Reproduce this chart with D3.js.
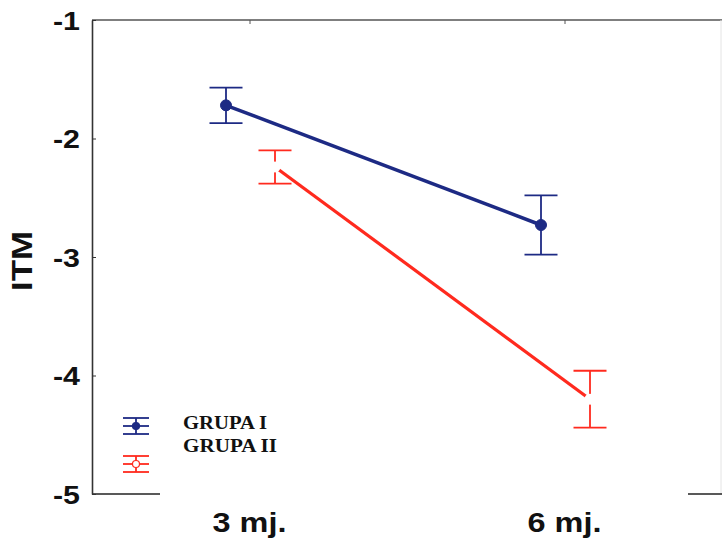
<!DOCTYPE html>
<html><head><meta charset="utf-8">
<script src="https://cdn.jsdelivr.net/npm/d3@7"></script>
<style>html,body{margin:0;padding:0;background:#fff;}svg{display:block;}</style>
</head><body>
<svg id="chart" width="722" height="541"></svg>
<script>
const categories = ["3 mj.", "6 mj."];
const seriesNames = ["GRUPA I", "GRUPA II"];
const grupa1Mean = [-1.72, -2.73];
const grupa1Err = [0.15, 0.25];
const grupa2Mean = [-2.24, -4.20];
const grupa2Err = [0.14, 0.24];
const yTicks = [-1, -2, -3, -4, -5];
const yLabel = "ITM";

const W = 722, H = 541;
const L = 92, R = 722, T = 20, B = 494;
const svg = d3.select("#chart");

const x = d3.scalePoint().domain(categories).range([L, R]).padding(0.5);
const y = d3.scaleLinear().domain([-5, -1]).range([B, T]);

const series = [
  {name: seriesNames[0], mean: grupa1Mean, err: grupa1Err, color: "#1d2a84", off: -23.5, filled: true, lw: 3.5},
  {name: seriesNames[1], mean: grupa2Mean, err: grupa2Err, color: "#ff2a1e", off: 25.5, filled: false, lw: 3.2}
];

// frame: top border
svg.append("line").attr("x1", L).attr("x2", R).attr("y1", T).attr("y2", T)
  .attr("stroke", "#555").attr("stroke-width", 1.6);
// faint right border
svg.append("line").attr("x1", R - 1).attr("x2", R - 1).attr("y1", T).attr("y2", B)
  .attr("stroke", "#e4e4e4").attr("stroke-width", 1);
// bottom border pieces (as in the reference)
svg.append("line").attr("x1", L).attr("x2", 160).attr("y1", B).attr("y2", B)
  .attr("stroke", "#222").attr("stroke-width", 1.6);
svg.append("line").attr("x1", 688).attr("x2", R).attr("y1", B).attr("y2", B)
  .attr("stroke", "#222").attr("stroke-width", 1.6);

// top ticks
const topAxis = svg.append("g").attr("transform", `translate(0,${T})`)
  .call(d3.axisTop(x).tickSize(-4).tickFormat(""));
topAxis.select(".domain").remove();
topAxis.selectAll("line").attr("stroke", "#555");

// left axis
const yAxis = svg.append("g").attr("transform", `translate(${L},0)`)
  .call(d3.axisLeft(y).tickValues(yTicks).tickSize(-4).tickSizeOuter(0).tickPadding(12)
    .tickFormat(d => String(d).replace("\u2212", "-")));
yAxis.select(".domain").attr("stroke", "#333").attr("stroke-width", 1.6);
yAxis.selectAll("line").attr("stroke", "#333");
yAxis.selectAll("text")
  .attr("font-family", "Liberation Sans, Arial, sans-serif")
  .attr("font-weight", "bold").attr("font-size", 26).attr("fill", "#111")
  .attr("dy", "0.36em")
  .attr("textLength", 27).attr("lengthAdjust", "spacingAndGlyphs");

// y label
svg.append("text").attr("transform", `translate(32,261) rotate(-90)`)
  .attr("text-anchor", "middle")
  .attr("font-family", "Liberation Sans, Arial, sans-serif")
  .attr("font-weight", "bold").attr("font-size", 29).attr("fill", "#111")
  .attr("textLength", 60).attr("lengthAdjust", "spacingAndGlyphs")
  .text(yLabel);

// x labels
svg.append("g").selectAll("text").data(categories).join("text")
  .attr("x", d => x(d)).attr("y", 532)
  .attr("text-anchor", "middle")
  .attr("font-family", "Liberation Sans, Arial, sans-serif")
  .attr("font-weight", "bold").attr("font-size", 28).attr("fill", "#111")
  .attr("textLength", 74).attr("lengthAdjust", "spacingAndGlyphs")
  .text(d => d);

// series
series.forEach(s => {
  const g = svg.append("g");
  const pts = categories.map((c, i) => ({cx: x(c) + s.off, m: s.mean[i], e: s.err[i]}));
  pts.forEach(p => {
    g.append("line").attr("x1", p.cx).attr("x2", p.cx)
      .attr("y1", y(p.m + p.e)).attr("y2", y(p.m - p.e))
      .attr("stroke", s.color).attr("stroke-width", 1.8);
    [p.m + p.e, p.m - p.e].forEach(v => {
      g.append("line").attr("x1", p.cx - 16.5).attr("x2", p.cx + 16.5)
        .attr("y1", y(v)).attr("y2", y(v))
        .attr("stroke", s.color).attr("stroke-width", 1.8);
    });
  });
  g.append("path").datum(pts)
    .attr("d", d3.line().x(p => p.cx).y(p => y(p.m)))
    .attr("fill", "none").attr("stroke", s.color).attr("stroke-width", s.lw);
  g.selectAll("circle").data(pts).join("circle")
    .attr("cx", p => p.cx).attr("cy", p => y(p.m))
    .attr("r", 5.5)
    .attr("fill", s.filled ? s.color : "#fff")
    .attr("stroke", s.filled ? s.color : "none");
});

// legend
const legY = [426, 464];
series.forEach((s, i) => {
  const cy = legY[i], cx = 136;
  const g = svg.append("g");
  [cy - 8, cy + 8].forEach(yy => g.append("line").attr("x1", cx - 13).attr("x2", cx + 13)
    .attr("y1", yy).attr("y2", yy).attr("stroke", s.color).attr("stroke-width", 1.8));
  g.append("line").attr("x1", cx - 13).attr("x2", cx + 13).attr("y1", cy).attr("y2", cy)
    .attr("stroke", s.color).attr("stroke-width", 1.8);
  g.append("line").attr("x1", cx).attr("x2", cx).attr("y1", cy - 8).attr("y2", cy + 8)
    .attr("stroke", s.color).attr("stroke-width", 1.8);
  g.append("circle").attr("cx", cx).attr("cy", cy).attr("r", 3.5)
    .attr("fill", s.filled ? s.color : "#fff").attr("stroke", s.color).attr("stroke-width", 1.2);
});
svg.append("g").selectAll("text").data(seriesNames).join("text")
  .attr("x", 183).attr("y", (d, i) => [429, 452][i])
  .attr("font-family", "Liberation Serif, Times New Roman, serif")
  .attr("font-weight", "bold").attr("font-size", 18).attr("fill", "#111")
  .attr("textLength", (d, i) => [84, 94][i]).attr("lengthAdjust", "spacingAndGlyphs")
  .text(d => d);
</script>
</body></html>
